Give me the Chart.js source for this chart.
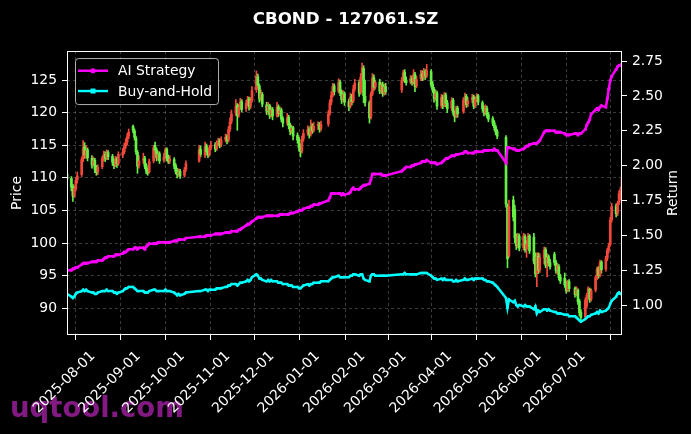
<!DOCTYPE html>
<html>
<head>
<meta charset="utf-8">
<script src="https://cdn.jsdelivr.net/npm/chart.js@4.4.1/dist/chart.umd.min.js"></script>
<style>
  html, body { margin: 0; padding: 0; background: #000; }
  canvas { display: block; }
</style>
</head>
<body>
<canvas id="chart" width="691" height="434"></canvas>
<script>
// ---- trading calendar ----
const firstDay = '2025-07-11';
const lastDay = '2026-07-24';
const holidays = [
    '2025-10-01', '2025-10-02', '2025-10-03', '2025-10-06', '2025-10-07', '2025-10-08',
    '2026-01-01', '2026-01-02',
    '2026-02-16', '2026-02-17', '2026-02-18', '2026-02-19', '2026-02-20', '2026-02-23',
    '2026-04-06',
    '2026-05-01', '2026-05-04', '2026-05-05',
    '2026-06-19'
];

// ---- tick labels ----
const monthTicks = ['2025-08-01', '2025-09-01', '2025-10-01', '2025-11-01', '2025-12-01', '2026-01-01',
    '2026-02-01', '2026-03-01', '2026-04-01', '2026-05-01', '2026-06-01', '2026-07-01'];
const priceTicks = [90, 95, 100, 105, 110, 115, 120, 125];
const returnTicks = [1.00, 1.25, 1.50, 1.75, 2.00, 2.25, 2.50, 2.75];

// ---- daily candles (one line per month) ----
const openPx = [
    110.6, 109.9, 108.7, 107.3, 108.3, 109.7, 110.5, 112.9, 114.8, 113.4, 114.3, 113.0, 112.1, 112.7, 111.4,
    110.9, 111.7, 113.0, 113.6, 113.1, 113.9, 113.3, 112.5, 112.0, 112.9, 112.2, 113.5, 114.0, 114.9, 115.5, 116.4, 117.9, 117.2, 116.1, 113.9, 111.9,
    112.7, 113.0, 111.9, 111.1, 110.9, 112.6, 115.0, 114.3, 113.0, 113.7, 112.7, 113.3, 114.4, 113.1, 112.6, 112.8, 111.9, 111.1, 110.6, 111.0, 110.4, 111.3,
    112.6, 114.4, 113.5, 114.9, 114.1, 113.6, 114.7, 115.1, 114.5, 115.3, 115.7, 115.1, 115.9, 116.3, 115.8, 117.5, 118.7,
    119.9, 121.1, 119.7, 120.9, 121.7, 120.6, 121.5, 122.1, 121.0, 121.9, 123.5, 125.5, 124.1, 122.2, 122.8, 121.2, 120.3, 121.1, 119.7, 120.5,
    119.6, 120.9, 120.0, 120.4, 119.1, 118.5, 119.3, 118.1, 117.2, 117.7, 116.5, 115.9, 114.7, 114.1, 116.0, 116.9, 117.5, 116.7, 117.9, 117.3, 118.0, 118.2, 117.6,
    118.3, 119.9, 121.6, 122.7, 124.1, 123.3, 124.7, 123.2, 122.1, 122.9, 121.7, 121.0, 122.5, 121.8, 123.7, 124.6, 123.1, 125.5, 126.8, 122.5,
    121.5, 119.3, 122.9, 125.4, 124.0, 124.7, 123.4, 124.3, 123.0, 124.0, 123.5, 125.1, 126.2, 125.0,
    124.7, 125.3, 124.7, 125.9, 124.1, 125.2, 126.0, 125.4, 126.3, 125.7, 126.3, 124.4, 123.6, 122.3, 123.0, 121.1, 122.4, 121.2, 122.7, 121.5, 120.7, 121.9,
    120.0, 119.5, 120.7, 120.2, 122.0, 122.5, 121.3, 121.9, 122.4, 121.1, 122.1, 122.6, 121.5, 120.7, 120.0, 120.7, 119.7, 119.1, 118.5, 117.8, 117.1,
    116.2, 105.6, 98.0, 106.6, 105.2, 100.9, 99.7, 101.1, 99.3, 101.0, 99.1, 99.9, 101.1, 100.9, 97.3, 95.4, 98.0, 95.9,
    97.7, 99.0, 96.7, 97.9, 97.0, 98.3, 97.1, 95.9, 96.4, 94.8, 94.6, 93.7, 92.8, 94.1, 93.1, 92.2, 92.8, 91.1, 89.4, 88.7, 90.4,
    92.1, 92.9, 91.4, 92.8, 94.8, 96.1, 95.1, 97.1, 96.0, 97.7, 99.0, 99.8, 103.6, 105.7, 104.6, 106.2, 107.5, 108.3
];
const highPx = [
    111.0, 110.2, 109.0, 108.8, 110.0, 110.9, 113.2, 115.7, 115.4, 115.0, 114.6, 113.4, 113.2, 113.0, 111.9,
    112.0, 113.3, 114.1, 114.0, 114.3, 114.2, 113.6, 112.9, 113.3, 113.2, 114.0, 114.5, 115.3, 116.0, 116.8, 117.5, 118.1, 117.5, 116.4, 114.2, 113.4,
    113.8, 113.3, 112.2, 111.5, 112.9, 115.0, 115.5, 114.6, 114.1, 114.0, 113.8, 114.6, 114.6, 113.5, 113.4, 113.1, 112.2, 111.5, 111.4, 111.3, 111.6, 112.6,
    115.0, 114.9, 115.5, 115.2, 114.5, 115.0, 115.6, 115.4, 115.7, 116.1, 116.0, 116.3, 116.7, 116.6, 117.9, 119.2, 120.4,
    122.0, 121.4, 121.3, 122.2, 122.0, 121.9, 122.5, 122.4, 122.3, 124.0, 126.4, 125.9, 124.4, 123.5, 123.1, 121.6, 121.6, 121.3, 120.9, 120.8,
    121.6, 121.2, 120.9, 120.7, 119.4, 119.9, 119.6, 118.4, 118.1, 117.9, 116.9, 116.2, 115.2, 116.4, 117.4, 118.0, 117.8, 118.9, 118.3, 118.5, 118.6, 118.5, 118.7,
    120.3, 122.0, 123.2, 124.5, 124.4, 125.2, 125.0, 123.5, 123.4, 123.2, 122.1, 123.0, 122.8, 124.2, 125.1, 125.0, 126.0, 127.6, 127.2, 125.0,
    121.8, 123.2, 126.0, 125.8, 125.0, 125.1, 124.6, 124.7, 124.4, 124.5, 125.4, 126.5, 126.6, 125.5,
    125.7, 125.6, 126.6, 126.2, 125.6, 126.5, 126.4, 126.8, 126.6, 127.4, 126.6, 124.8, 123.9, 123.5, 123.3, 122.8, 122.7, 123.1, 123.0, 121.9, 122.3, 122.2,
    120.3, 121.0, 121.0, 122.3, 123.0, 122.8, 122.3, 122.8, 122.7, 122.4, 122.9, 122.8, 121.8, 121.0, 121.2, 121.0, 120.0, 119.4, 118.8, 118.1, 117.4,
    116.5, 106.0, 106.6, 107.2, 105.8, 101.4, 101.5, 101.4, 101.5, 101.3, 100.4, 101.5, 101.3, 101.5, 98.5, 98.5, 98.5, 98.4,
    99.4, 99.3, 98.4, 98.2, 97.5, 98.6, 97.4, 96.9, 96.7, 95.2, 95.4, 94.1, 94.3, 94.4, 93.3, 93.3, 93.0, 91.4, 89.8, 91.6, 92.3,
    93.3, 93.1, 93.0, 95.0, 96.3, 96.4, 97.4, 97.3, 98.0, 99.2, 100.0, 104.0, 106.1, 106.0, 106.4, 108.0, 108.6, 110.2
];
const lowPx = [
    109.4, 108.0, 106.4, 107.0, 108.0, 109.2, 110.2, 112.5, 113.0, 113.0, 112.6, 111.5, 111.8, 110.8, 110.4,
    110.5, 111.4, 112.6, 112.5, 112.8, 112.8, 111.9, 111.4, 111.7, 111.6, 111.9, 113.1, 113.7, 114.5, 115.1, 116.0, 116.9, 115.8, 113.6, 110.7, 111.5,
    112.2, 111.4, 110.6, 110.4, 110.7, 112.3, 113.8, 112.6, 112.7, 112.2, 112.4, 113.0, 112.6, 112.2, 112.2, 111.4, 110.6, 110.0, 110.2, 109.9, 110.1, 111.0,
    112.4, 113.2, 113.1, 113.5, 113.1, 113.3, 114.3, 114.0, 114.2, 114.9, 114.6, 114.8, 115.5, 115.2, 115.5, 117.1, 118.3,
    119.5, 117.3, 119.3, 120.5, 120.1, 120.2, 121.1, 120.4, 120.6, 121.6, 123.1, 123.7, 121.6, 121.8, 120.9, 119.7, 119.9, 119.1, 119.3, 118.9,
    119.3, 119.4, 119.6, 118.6, 117.8, 118.1, 117.5, 116.6, 116.8, 115.8, 115.3, 114.1, 113.2, 113.8, 115.6, 116.5, 116.1, 116.4, 116.8, 117.0, 117.4, 117.0, 117.2,
    117.9, 119.6, 121.2, 122.4, 122.7, 123.0, 122.6, 121.4, 121.7, 121.1, 120.3, 120.7, 121.2, 121.5, 123.3, 122.5, 122.8, 125.1, 121.5, 121.0,
    118.4, 119.0, 122.6, 123.4, 123.6, 122.9, 123.0, 122.5, 122.7, 122.8, 123.1, 124.8, 124.6, 124.2,
    124.4, 124.2, 124.4, 123.2, 123.8, 124.9, 124.9, 125.0, 125.1, 125.4, 123.9, 123.1, 121.6, 121.9, 120.5, 120.7, 120.6, 120.9, 120.9, 120.0, 120.3, 119.6,
    118.6, 119.2, 119.3, 119.9, 121.6, 120.8, 120.9, 121.5, 120.6, 120.8, 121.7, 121.2, 120.2, 119.5, 119.7, 119.2, 118.6, 118.0, 117.3, 116.6, 116.0,
    105.5, 96.2, 97.8, 103.4, 100.0, 99.0, 99.3, 98.8, 98.9, 98.6, 97.8, 99.5, 98.4, 96.8, 94.8, 93.3, 95.3, 95.5,
    96.8, 96.2, 94.8, 96.5, 96.0, 96.6, 95.4, 95.2, 94.3, 93.8, 93.2, 92.3, 92.5, 92.6, 91.7, 91.9, 90.6, 88.8, 87.9, 88.2, 90.0,
    91.6, 90.9, 91.1, 92.5, 94.4, 94.6, 94.8, 95.4, 95.7, 97.3, 98.5, 99.5, 103.2, 104.0, 104.2, 105.9, 106.6, 108.0
];
const closePx = [
    109.8, 108.6, 107.2, 108.4, 109.6, 110.3, 112.8, 114.6, 113.5, 114.2, 113.1, 112.0, 112.6, 111.3, 110.8,
    111.6, 112.9, 113.5, 113.0, 113.8, 113.2, 112.4, 111.9, 112.8, 112.1, 113.6, 113.9, 114.8, 115.4, 116.3, 117.0, 117.3, 116.2, 114.0, 111.8, 112.6,
    112.9, 111.8, 111.0, 110.8, 112.5, 114.6, 114.2, 113.1, 113.6, 112.6, 113.2, 114.3, 113.0, 112.5, 112.9, 111.8, 111.0, 110.5, 110.9, 110.3, 111.2, 112.2,
    114.3, 113.6, 114.8, 114.0, 113.5, 114.6, 115.0, 114.4, 115.2, 115.6, 115.0, 115.8, 116.2, 115.7, 117.4, 118.6, 119.8,
    121.0, 119.6, 120.8, 121.6, 120.5, 121.4, 122.0, 120.9, 121.8, 123.4, 125.6, 124.2, 122.1, 122.9, 121.3, 120.2, 121.0, 119.6, 120.4, 119.5,
    120.8, 119.9, 120.3, 119.0, 118.4, 119.2, 118.0, 117.1, 117.6, 116.4, 115.8, 114.6, 114.0, 115.9, 116.8, 117.4, 116.6, 117.8, 117.2, 117.9, 118.1, 117.5, 118.2,
    119.8, 121.5, 122.6, 124.0, 123.2, 124.6, 123.1, 122.0, 122.8, 121.6, 120.9, 122.4, 121.7, 123.6, 124.5, 123.0, 125.4, 126.9, 122.6, 121.6,
    119.2, 122.8, 125.3, 123.9, 124.6, 123.3, 124.2, 122.9, 123.9, 123.2, 125.0, 126.1, 124.9, 124.6,
    125.2, 124.6, 125.8, 124.0, 125.1, 125.9, 125.3, 126.2, 125.6, 126.4, 124.3, 123.5, 122.2, 122.9, 121.0, 122.3, 121.1, 122.6, 121.4, 120.6, 121.8, 120.1,
    119.4, 120.6, 119.8, 121.9, 122.4, 121.2, 121.8, 122.3, 121.0, 122.0, 122.5, 121.6, 120.6, 119.9, 120.8, 119.6, 119.0, 118.4, 117.7, 117.0, 116.4,
    106.0, 97.6, 105.6, 104.0, 100.8, 99.6, 101.0, 99.2, 101.1, 99.0, 99.8, 101.0, 98.8, 97.2, 95.3, 97.9, 95.8, 97.8,
    98.9, 96.6, 97.8, 96.9, 96.4, 97.0, 95.8, 96.5, 94.7, 94.2, 93.6, 92.7, 94.0, 93.0, 92.1, 92.9, 91.0, 89.3, 88.6, 91.2, 92.0,
    93.0, 91.3, 92.7, 94.7, 96.0, 95.0, 97.0, 95.9, 97.6, 98.9, 99.6, 103.5, 105.6, 104.5, 106.1, 107.6, 108.2, 109.9
];

// ---- cumulative returns (right axis) ----
const aiReturn = [
    1.25, 1.25, 1.26, 1.26, 1.27, 1.27, 1.29, 1.30, 1.30, 1.30, 1.30, 1.31, 1.31, 1.31, 1.31,
    1.32, 1.32, 1.33, 1.34, 1.34, 1.35, 1.35, 1.35, 1.36, 1.36, 1.36, 1.37, 1.38, 1.38, 1.39, 1.40, 1.40, 1.41, 1.41, 1.40, 1.41,
    1.41, 1.40, 1.42, 1.43, 1.44, 1.44, 1.44, 1.44, 1.45, 1.45, 1.45, 1.45, 1.45, 1.45, 1.45, 1.46, 1.46, 1.46, 1.47, 1.47, 1.47, 1.48,
    1.49, 1.49, 1.49, 1.50, 1.50, 1.50, 1.50, 1.51, 1.51, 1.51, 1.51, 1.51, 1.52, 1.52, 1.52, 1.52, 1.53,
    1.53, 1.53, 1.54, 1.54, 1.55, 1.57, 1.58, 1.58, 1.59, 1.60, 1.62, 1.63, 1.63, 1.63, 1.63, 1.64, 1.64, 1.64, 1.64, 1.64,
    1.64, 1.64, 1.65, 1.65, 1.65, 1.65, 1.65, 1.66, 1.66, 1.66, 1.67, 1.68, 1.68, 1.68, 1.69, 1.70, 1.70, 1.71, 1.71, 1.72, 1.72, 1.73, 1.73,
    1.75, 1.77, 1.80, 1.80, 1.80, 1.80, 1.80, 1.79, 1.80, 1.79, 1.80, 1.81, 1.83, 1.84, 1.83, 1.83, 1.84, 1.85, 1.86, 1.86,
    1.87, 1.90, 1.94, 1.94, 1.94, 1.94, 1.94, 1.93, 1.93, 1.93, 1.96, 1.97, 1.98, 1.99,
    1.99, 2.00, 2.00, 2.01, 2.01, 2.02, 2.03, 2.03, 2.03, 2.04, 2.02, 2.02, 2.02, 2.02, 2.01, 2.02, 2.03, 2.04, 2.05, 2.05, 2.07, 2.07,
    2.07, 2.08, 2.08, 2.09, 2.10, 2.10, 2.09, 2.09, 2.09, 2.10, 2.10, 2.10, 2.10, 2.11, 2.11, 2.11, 2.11, 2.11, 2.12, 2.11, 2.11,
    2.02, 2.13, 2.13, 2.12, 2.12, 2.11, 2.11, 2.11, 2.12, 2.13, 2.14, 2.14, 2.15, 2.16, 2.16, 2.16, 2.17, 2.18,
    2.24, 2.25, 2.25, 2.25, 2.25, 2.25, 2.24, 2.24, 2.24, 2.24, 2.23, 2.22, 2.22, 2.22, 2.23, 2.23, 2.22, 2.23, 2.23, 2.26, 2.29,
    2.31, 2.33, 2.37, 2.40, 2.41, 2.40, 2.42, 2.43, 2.42, 2.48, 2.55, 2.61, 2.64, 2.69, 2.71, 2.72, 2.72, 2.73
];
const holdReturn = [
    1.08, 1.06, 1.05, 1.06, 1.08, 1.09, 1.10, 1.11, 1.10, 1.11, 1.10, 1.09, 1.09, 1.08, 1.08,
    1.09, 1.10, 1.10, 1.10, 1.11, 1.10, 1.10, 1.09, 1.09, 1.08, 1.09, 1.10, 1.11, 1.12, 1.12, 1.13, 1.13, 1.12, 1.11, 1.10, 1.10,
    1.10, 1.09, 1.09, 1.09, 1.10, 1.11, 1.11, 1.10, 1.10, 1.10, 1.10, 1.11, 1.10, 1.10, 1.10, 1.09, 1.08, 1.07, 1.08, 1.07, 1.08, 1.09,
    1.10, 1.10, 1.11, 1.11, 1.10, 1.11, 1.11, 1.11, 1.12, 1.12, 1.12, 1.12, 1.13, 1.13, 1.14, 1.14, 1.15,
    1.15, 1.14, 1.15, 1.16, 1.16, 1.17, 1.18, 1.17, 1.18, 1.20, 1.22, 1.21, 1.19, 1.19, 1.18, 1.17, 1.18, 1.17, 1.18, 1.17,
    1.17, 1.16, 1.16, 1.16, 1.15, 1.15, 1.14, 1.14, 1.14, 1.13, 1.13, 1.12, 1.12, 1.13, 1.14, 1.15, 1.14, 1.15, 1.15, 1.16, 1.16, 1.16, 1.17,
    1.17, 1.18, 1.19, 1.20, 1.20, 1.21, 1.20, 1.20, 1.20, 1.20, 1.20, 1.21, 1.21, 1.22, 1.22, 1.21, 1.22, 1.22, 1.19, 1.18,
    1.17, 1.21, 1.22, 1.22, 1.21, 1.21, 1.21, 1.21, 1.21, 1.21, 1.22, 1.22, 1.23, 1.22,
    1.22, 1.22, 1.22, 1.22, 1.22, 1.23, 1.23, 1.23, 1.23, 1.23, 1.21, 1.20, 1.19, 1.19, 1.18, 1.19, 1.18, 1.19, 1.18, 1.18, 1.18, 1.17,
    1.17, 1.18, 1.17, 1.18, 1.19, 1.18, 1.18, 1.19, 1.18, 1.19, 1.19, 1.19, 1.19, 1.18, 1.18, 1.17, 1.17, 1.16, 1.15, 1.14, 1.13,
    1.05, 0.98, 1.04, 1.02, 1.03, 1.00, 0.99, 1.00, 0.99, 1.00, 0.99, 0.99, 0.99, 0.97, 0.99, 0.94, 0.96, 0.95,
    0.97, 0.97, 0.96, 0.97, 0.96, 0.95, 0.95, 0.94, 0.94, 0.94, 0.93, 0.93, 0.93, 0.92, 0.92, 0.91, 0.90, 0.89, 0.88, 0.90, 0.91,
    0.92, 0.92, 0.93, 0.94, 0.95, 0.94, 0.96, 0.95, 0.96, 0.97, 0.98, 1.01, 1.03, 1.06, 1.08, 1.09, 1.08, 1.08
];

// ---- helpers ----
const DAY = 864e5;
const baseMs = Date.UTC(2025, 7, 1);
function dayOf(iso) {
    const p = iso.split('-').map(Number);
    return Math.round((Date.UTC(p[0], p[1] - 1, p[2]) - baseMs) / DAY);
}
function buildTradeDays() {
    const days = [];
    for (let d = dayOf(firstDay); d <= dayOf(lastDay); d++) {
        const dt = new Date(baseMs + d * DAY);
        const wd = dt.getUTCDay();
        if (wd === 0 || wd === 6) continue;
        if (holidays.includes(dt.toISOString().slice(0, 10))) continue;
        days.push(d);
    }
    return days;
}

const tradeDays = buildTradeDays();
const n = Math.min(tradeDays.length, closePx.length);
const upColor = '#f2483a';
const downColor = '#66f046';
const candleColors = [];
for (let i = 0; i < n; i++) {
    candleColors.push(closePx[i] >= openPx[i] ? upColor : downColor);
}
const tickLabel = {};
monthTicks.forEach(m => { tickLabel[dayOf(m)] = m; });

// ---- small plugins: background + watermark, frame, legend box, right label ----
const backdrop = {
    id: 'backdrop',
    beforeDraw(chart) {
        const ctx = chart.ctx;
        ctx.save();
        ctx.fillStyle = '#000';
        ctx.fillRect(0, 0, chart.width, chart.height);
        ctx.font = 'bold 27.5px "DejaVu Sans"';
        ctx.fillStyle = 'rgba(160, 32, 160, 0.82)';
        ctx.textBaseline = 'alphabetic';
        ctx.fillText('uqtool.com', 10, 417);
        ctx.restore();
    }
};

const frame = {
    id: 'frame',
    afterDatasetsDraw(chart) {
        const {ctx, chartArea: a} = chart;
        ctx.save();
        ctx.strokeStyle = '#fff';
        ctx.lineWidth = 1;
        ctx.strokeRect(Math.round(a.left) + 0.5, Math.round(a.top) + 0.5,
            Math.round(a.right - a.left) - 1, Math.round(a.bottom - a.top) - 1);
        ctx.restore();
    }
};

const legendBox = {
    id: 'legendBox',
    afterDatasetsDraw(chart) {
        const {ctx, chartArea} = chart;
        const items = chart.data.datasets.filter(ds => ds.type === 'line');
        const x = chartArea.left + 8, y = chartArea.top + 7;
        ctx.save();
        ctx.beginPath();
        ctx.roundRect(x + 0.5, y + 0.5, 143, 46, 3);
        ctx.fillStyle = 'rgba(0, 0, 0, 0.8)';
        ctx.fill();
        ctx.strokeStyle = 'rgba(204, 204, 204, 0.85)';
        ctx.lineWidth = 1;
        ctx.stroke();
        ctx.font = '13.9px "DejaVu Sans"';
        ctx.textBaseline = 'middle';
        items.forEach((ds, i) => {
            const cy = y + 12.7 + i * 20.3;
            ctx.strokeStyle = ds.borderColor;
            ctx.lineWidth = 2.4;
            ctx.beginPath();
            ctx.moveTo(x + 3, cy);
            ctx.lineTo(x + 33, cy);
            ctx.stroke();
            ctx.fillStyle = ds.borderColor;
            if (ds.pointStyle === 'rect') {
                ctx.fillRect(x + 15.5, cy - 2.5, 5, 5);
            } else {
                ctx.beginPath();
                ctx.arc(x + 18, cy, 2.6, 0, Math.PI * 2);
                ctx.fill();
            }
            ctx.fillStyle = '#fff';
            ctx.fillText(ds.label, x + 43, cy + 1);
        });
        ctx.restore();
    }
};

const rightTitle = {
    id: 'rightTitle',
    afterDraw(chart) {
        const {ctx, chartArea} = chart;
        ctx.save();
        ctx.translate(chart.width - 17.5, (chartArea.top + chartArea.bottom) / 2);
        ctx.rotate(-Math.PI / 2);
        ctx.font = '13.9px "DejaVu Sans"';
        ctx.fillStyle = '#fff';
        ctx.textAlign = 'center';
        ctx.textBaseline = 'middle';
        ctx.fillText('Return', 0, 0);
        ctx.restore();
    }
};

// ---- chart ----
Chart.defaults.font.family = '"DejaVu Sans", sans-serif';
Chart.defaults.color = '#fff';

const gridColor = 'rgba(150, 150, 150, 0.5)';
const tickFont = {size: 13.9};

new Chart(document.getElementById('chart'), {
    type: 'bar',
    data: {
        datasets: [{
            type: 'line',
            label: 'AI Strategy',
            data: tradeDays.slice(0, n).map((d, i) => ({x: d, y: aiReturn[i]})),
            yAxisID: 'y1', xAxisID: 'x',
            borderColor: '#ff00ff',
            backgroundColor: '#ff00ff',
            borderWidth: 2.5,
            pointStyle: 'circle',
            pointRadius: 1.6,
            pointBorderWidth: 0,
            tension: 0,
            order: 0
        }, {
            type: 'line',
            label: 'Buy-and-Hold',
            data: tradeDays.slice(0, n).map((d, i) => ({x: d, y: holdReturn[i]})),
            yAxisID: 'y1', xAxisID: 'x',
            borderColor: '#00ffff',
            backgroundColor: '#00ffff',
            borderWidth: 2.5,
            pointStyle: 'rect',
            pointRadius: 1.6,
            pointBorderWidth: 0,
            tension: 0,
            order: 0
        }, {
            // wicks
            label: 'wick',
            data: tradeDays.slice(0, n).map((d, i) => ({x: d, y: [lowPx[i], highPx[i]]})),
            yAxisID: 'y', xAxisID: 'x',
            backgroundColor: candleColors,
            barThickness: 1,
            grouped: false,
            order: 2
        }, {
            // bodies
            label: 'body',
            data: tradeDays.slice(0, n).map((d, i) => ({x: d, y: [openPx[i], closePx[i]]})),
            yAxisID: 'y', xAxisID: 'x',
            backgroundColor: candleColors,
            barThickness: 2,
            minBarLength: 1,
            grouped: false,
            order: 1
        }]
    },
    options: {
        responsive: false,
        animation: false,
        events: [],
        layout: {padding: 0},
        plugins: {
            legend: {display: false},
            tooltip: {enabled: false},
            title: {
                display: true,
                text: 'CBOND - 127061.SZ',
                color: '#fff',
                font: {size: 16.7, weight: 'bold'},
                padding: {top: 10, bottom: 21}
            }
        },
        scales: {
            x: {
                type: 'linear',
                position: 'bottom',
                offset: false,
                min: dayOf(firstDay),
                max: dayOf(lastDay),
                afterBuildTicks: s => { s.ticks = monthTicks.map(m => ({value: dayOf(m)})); },
                afterFit: s => { s.height = 99; },
                ticks: {
                    autoSkip: false,
                    minRotation: 45,
                    maxRotation: 45,
                    padding: 8,
                    labelOffset: -5,
                    font: tickFont,
                    callback: v => tickLabel[v] || ''
                },
                grid: {color: gridColor, lineWidth: 0.8, tickLength: 5, tickColor: '#fff', tickWidth: 1},
                border: {display: false, dash: [3, 3]}
            },
            y: {
                type: 'linear',
                position: 'left',
                min: 85.9,
                max: 129.45,
                afterBuildTicks: s => { s.ticks = priceTicks.map(v => ({value: v})); },
                afterFit: s => { s.width = 67; },
                ticks: {font: tickFont, padding: 5, callback: v => String(v)},
                title: {display: true, text: 'Price', font: {size: 13.9}, padding: {top: 9, bottom: 0}},
                grid: {color: gridColor, lineWidth: 0.8, tickLength: 5, tickColor: '#fff', tickWidth: 1},
                border: {display: false, dash: [3, 3]}
            },
            y1: {
                type: 'linear',
                position: 'right',
                min: 0.785,
                max: 2.822,
                afterBuildTicks: s => { s.ticks = returnTicks.map(v => ({value: v})); },
                afterFit: s => { s.width = 69; },
                ticks: {font: tickFont, padding: 5, callback: v => Number(v).toFixed(2)},
                grid: {drawOnChartArea: false, tickLength: 5, tickColor: '#fff', tickWidth: 1},
                border: {display: false}
            }
        }
    },
    plugins: [backdrop, frame, legendBox, rightTitle]
});
</script>
</body>
</html>
